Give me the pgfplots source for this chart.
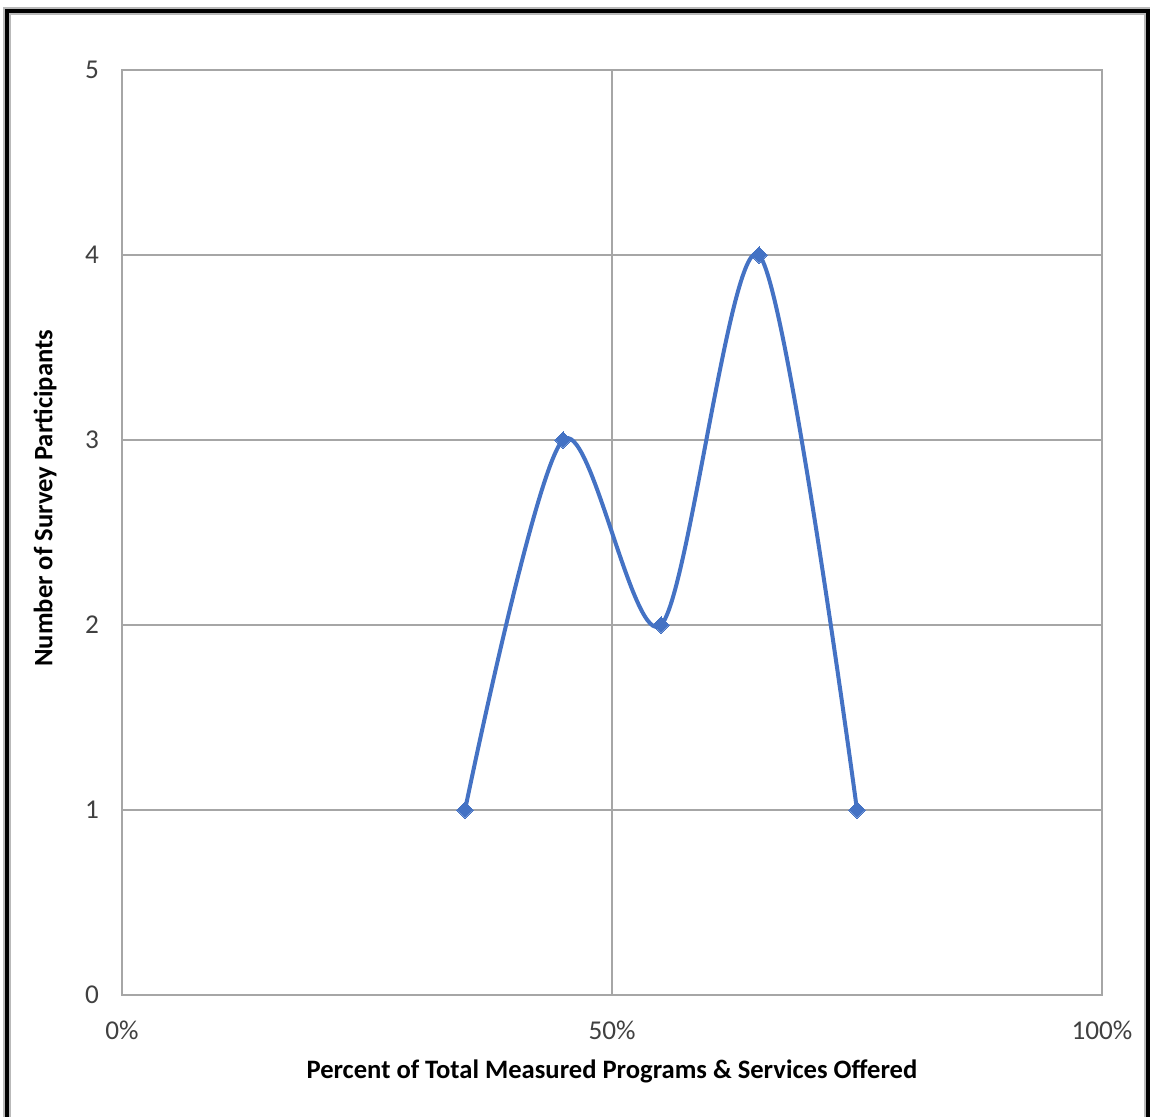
\documentclass[border=0pt]{standalone}
\usepackage{pgfplots}
\pgfplotsset{compat=1.18}
\usepackage{fontspec}
\setmainfont{Carlito}
\definecolor{gridc}{RGB}{166,166,166}
\definecolor{series}{RGB}{68,114,196}
\definecolor{ticktext}{RGB}{64,64,64}
\begin{document}
\begin{tikzpicture}
\useasboundingbox (0,0) rectangle (575pt,558pt);
\draw[gray!55, line width=4.2pt] (3.5pt,-5pt) -- (3.5pt,552.5pt) -- (574pt,552.5pt) -- (574pt,-5pt);
\draw[black, line width=2.4pt] (3.5pt,-5pt) -- (3.5pt,552.5pt) -- (574pt,552.5pt) -- (574pt,-5pt);
\begin{axis}[
  at={(61pt,60.5pt)}, anchor=south west,
  scale only axis, width=490pt, height=462.5pt,
  xmin=0, xmax=100, ymin=0, ymax=5,
  xtick={0,50,100}, xticklabels={0\%,50\%,100\%},
  ytick={0,1,2,3,4,5},
  /pgf/number format/assume math mode=true,
  grid=major,
  major grid style={gridc, line width=0.6pt},
  axis line style={gridc, line width=0.6pt},
  major tick length=0pt,
  tick label style={font=\fontsize{13.6}{16}\selectfont, text=ticktext},
  yticklabel style={xshift=-8pt},
  xticklabel style={yshift=-9.5pt},
  every axis x label/.style={at={(axis description cs:0.5,0)}, anchor=center, yshift=-38pt},
  every axis y label/.style={at={(axis description cs:0,0.537)}, anchor=center, rotate=90, yshift=38.5pt},
  label style={font=\fontsize{13.3}{16}\selectfont\bfseries},
  xlabel={Percent of Total Measured Programs \& Services Offered},
  ylabel={Number of Survey Participants},
]
\addplot[series, line width=2pt, smooth, tension=0.5, mark=square*, mark size=2.9pt, mark options={rotate=45, fill=series, draw=series, line width=0pt}]
  coordinates {(35,1) (45,3) (55,2) (65,4) (75,1)};
\end{axis}
\end{tikzpicture}
\end{document}
